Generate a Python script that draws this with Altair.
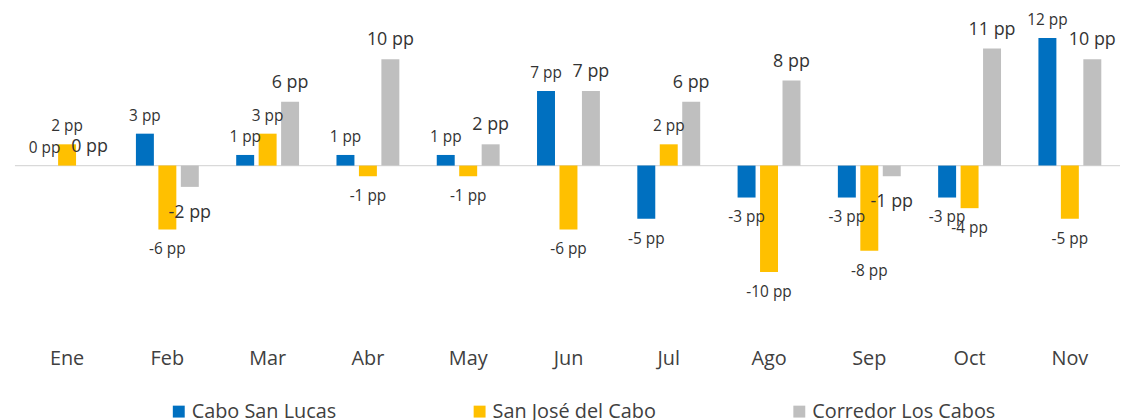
import altair as alt
import pandas as pd

months = ["Ene", "Feb", "Mar", "Abr", "May", "Jun", "Jul", "Ago", "Sep", "Oct", "Nov"]
series = ["Cabo San Lucas", "San José del Cabo", "Corredor Los Cabos"]
cabo_san_lucas = [0, 3, 1, 1, 1, 7, -5, -3, -3, -3, 12]
san_jose_del_cabo = [2, -6, 3, -1, -1, -6, 2, -10, -8, -4, -5]
corredor_los_cabos = [0, -2, 6, 10, 2, 7, 6, 8, -1, 11, 10]
colors = ["#0070C0", "#FFC000", "#BFBFBF"]

rows = []
for s, vals in zip(series, [cabo_san_lucas, san_jose_del_cabo, corredor_los_cabos]):
    for m, v in zip(months, vals):
        rows.append({"month": m, "series": s, "value": v})
df = pd.DataFrame(rows)

FONT = "Open Sans"
TXT = "#333333"

x = alt.X("month:N", sort=months, title=None,
          scale=alt.Scale(paddingInner=0.373, paddingOuter=0.1865),
          axis=alt.Axis(orient="bottom", domain=False, ticks=False, labelAngle=0,
                        labelFont=FONT, labelFontSize=20, labelColor="#404040",
                        labelPadding=2, grid=False))
xoff = alt.XOffset("series:N", sort=series,
                   scale=alt.Scale(paddingInner=0.2, paddingOuter=0))
y = alt.Y("value:Q", axis=None, scale=alt.Scale(domain=[-17.05, 14.2], nice=False, zero=False))

base = alt.Chart(df)

bars = base.mark_bar().encode(
    x=x, xOffset=xoff, y=y,
    color=alt.Color("series:N", sort=series,
                    scale=alt.Scale(domain=series, range=colors),
                    legend=alt.Legend(title=None, orient="none", legendX=153, legendY=390,
                                      direction="horizontal", columns=3, columnPadding=134,
                                      symbolType="square", symbolSize=144, symbolStrokeWidth=0,
                                      labelFont=FONT, labelFontSize=20, labelColor="#404040",
                                      labelOffset=3, labelLimit=400, padding=0)),
)

zero = alt.Chart(pd.DataFrame({"z": [0]})).mark_rule(color="#D9D9D9", strokeWidth=1.2).encode(
    y=alt.Y("z:Q", scale=alt.Scale(domain=[-17.05, 14.2], nice=False, zero=False), axis=None),
    x=alt.value(-2), x2=alt.value(1111)
)

size_enc = alt.condition(alt.datum.series == "Corredor Los Cabos", alt.value(18), alt.value(15.5))

labels_pos = base.transform_filter(alt.datum.value >= 0).transform_calculate(
    lab="datum.value + ' pp'"
).mark_text(baseline="bottom", dy=-10, font=FONT, color=TXT).encode(
    x=x, xOffset=xoff, y=y, text="lab:N", size=size_enc
)

labels_neg_small = base.transform_filter(
    (alt.datum.value < 0) & (alt.datum.series != "Corredor Los Cabos")
).transform_calculate(lab="datum.value + ' pp'").mark_text(
    baseline="top", dy=13, font=FONT, color=TXT, fontSize=15.5
).encode(x=x, xOffset=xoff, y=y, text="lab:N")

labels_neg_big = base.transform_filter(
    (alt.datum.value < 0) & (alt.datum.series == "Corredor Los Cabos")
).transform_calculate(lab="datum.value + ' pp'").mark_text(
    baseline="top", dy=17, font=FONT, color=TXT, fontSize=18
).encode(x=x, xOffset=xoff, y=y, text="lab:N")

chart = alt.layer(zero, bars, labels_pos, labels_neg_small, labels_neg_big).properties(
    width=1111, height=335,
    padding={"left": 9, "top": 5, "right": 0, "bottom": 80},
    autosize=alt.AutoSizeParams(type="none"),
    background="white",
).configure_view(stroke=None, strokeWidth=0)

chart.save("out.html", embed_options={"renderer": "svg", "actions": False})
